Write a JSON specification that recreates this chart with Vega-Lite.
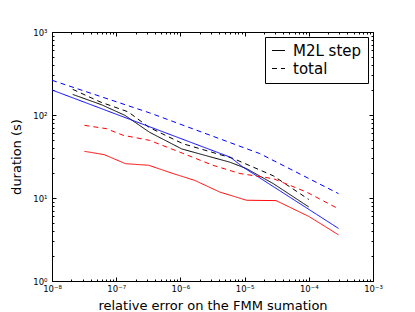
{
  "$schema": "https://vega.github.io/schema/vega-lite/v6.json",
  "width": 321,
  "height": 249,
  "autosize": {"type": "none"},
  "padding": {"left": 52, "top": 32, "right": 42, "bottom": 31},
  "background": "white",
  "config": {
    "view": {"stroke": "black"},
    "font": "DejaVu Sans"
  },
  "data": {
    "values": [
      {"err": 2.1e-8, "dur": 177, "c": "k", "kind": "M2L step"},
      {"err": 5.9e-8, "dur": 133, "c": "k", "kind": "M2L step"},
      {"err": 1.37e-7, "dur": 99, "c": "k", "kind": "M2L step"},
      {"err": 3.3e-7, "dur": 62, "c": "k", "kind": "M2L step"},
      {"err": 1.05e-6, "dur": 39, "c": "k", "kind": "M2L step"},
      {"err": 5.9e-6, "dur": 27, "c": "k", "kind": "M2L step"},
      {"err": 1.07e-5, "dur": 22.6, "c": "k", "kind": "M2L step"},
      {"err": 2.8e-5, "dur": 14.9, "c": "k", "kind": "M2L step"},
      {"err": 1e-4, "dur": 7.8, "c": "k", "kind": "M2L step"},

      {"err": 2.1e-8, "dur": 204, "c": "k", "kind": "total"},
      {"err": 5.6e-8, "dur": 144, "c": "k", "kind": "total"},
      {"err": 1.54e-7, "dur": 109, "c": "k", "kind": "total"},
      {"err": 3.3e-7, "dur": 70.5, "c": "k", "kind": "total"},
      {"err": 1.1e-6, "dur": 45, "c": "k", "kind": "total"},
      {"err": 6.6e-6, "dur": 30, "c": "k", "kind": "total"},
      {"err": 2.8e-5, "dur": 18.5, "c": "k", "kind": "total"},
      {"err": 1e-4, "dur": 9.6, "c": "k", "kind": "total"},

      {"err": 1e-8, "dur": 200, "c": "b", "kind": "M2L step"},
      {"err": 6e-6, "dur": 31, "c": "b", "kind": "M2L step"},
      {"err": 9.4e-6, "dur": 23.6, "c": "b", "kind": "M2L step"},
      {"err": 2.9e-4, "dur": 4.3, "c": "b", "kind": "M2L step"},

      {"err": 1e-8, "dur": 262, "c": "b", "kind": "total"},
      {"err": 3.33e-7, "dur": 106, "c": "b", "kind": "total"},
      {"err": 1.72e-5, "dur": 34.3, "c": "b", "kind": "total"},
      {"err": 2.9e-4, "dur": 11.3, "c": "b", "kind": "total"},

      {"err": 3.2e-8, "dur": 36.5, "c": "r", "kind": "M2L step"},
      {"err": 6.5e-8, "dur": 33.3, "c": "r", "kind": "M2L step"},
      {"err": 1.4e-7, "dur": 25.9, "c": "r", "kind": "M2L step"},
      {"err": 3.2e-7, "dur": 24.8, "c": "r", "kind": "M2L step"},
      {"err": 7.7e-7, "dur": 19.7, "c": "r", "kind": "M2L step"},
      {"err": 1.67e-6, "dur": 16.3, "c": "r", "kind": "M2L step"},
      {"err": 4.1e-6, "dur": 11.8, "c": "r", "kind": "M2L step"},
      {"err": 1.07e-5, "dur": 9.4, "c": "r", "kind": "M2L step"},
      {"err": 3.1e-5, "dur": 9.3, "c": "r", "kind": "M2L step"},
      {"err": 1e-4, "dur": 6.0, "c": "r", "kind": "M2L step"},
      {"err": 2.9e-4, "dur": 3.6, "c": "r", "kind": "M2L step"},

      {"err": 3.2e-8, "dur": 75, "c": "r", "kind": "total"},
      {"err": 7e-8, "dur": 68.5, "c": "r", "kind": "total"},
      {"err": 1.28e-7, "dur": 57, "c": "r", "kind": "total"},
      {"err": 3.3e-7, "dur": 49.5, "c": "r", "kind": "total"},
      {"err": 9.7e-7, "dur": 35.8, "c": "r", "kind": "total"},
      {"err": 3.2e-6, "dur": 24.8, "c": "r", "kind": "total"},
      {"err": 8.5e-6, "dur": 19.7, "c": "r", "kind": "total"},
      {"err": 2.8e-5, "dur": 17.1, "c": "r", "kind": "total"},
      {"err": 9.2e-5, "dur": 11.8, "c": "r", "kind": "total"},
      {"err": 2.9e-4, "dur": 7.4, "c": "r", "kind": "total"}
    ]
  },
  "resolve": {"axis": {"x": "independent", "y": "independent"}},
  "layer": [
    {
      "mark": {"type": "line", "strokeWidth": 1, "clip": true},
      "encoding": {
        "x": {
          "field": "err", "type": "quantitative",
          "scale": {"type": "log", "domain": [1e-8, 1e-3], "nice": false},
          "axis": {
            "orient": "bottom",
            "title": "relative error on the FMM sumation",
            "values": [1e-8,2e-8,3e-8,4e-8,5e-8,6e-8,7e-8,8e-8,9e-8,1e-7,2e-7,3e-7,4e-7,5e-7,6e-7,7e-7,8e-7,9e-7,1e-6,2e-6,3e-6,4e-6,5e-6,6e-6,7e-6,8e-6,9e-6,1e-5,2e-5,3e-5,4e-5,5e-5,6e-5,7e-5,8e-5,9e-5,1e-4,2e-4,3e-4,4e-4,5e-4,6e-4,7e-4,8e-4,9e-4,1e-3],
            "labelExpr": "abs(log(datum.value)/LN10 - round(log(datum.value)/LN10)) < 0.001 ? ['10⁻⁸','10⁻⁷','10⁻⁶','10⁻⁵','10⁻⁴','10⁻³'][round(log(datum.value)/LN10)+8] : ''",
            "tickSize": {"condition": {"test": "abs(log(datum.value)/LN10 - round(log(datum.value)/LN10)) < 0.001", "value": -4}, "value": -2},
            "grid": false,
            "domainColor": "black", "tickColor": "black", "labelColor": "black", "titleColor": "black",
            "labelFont": "DejaVu Sans", "labelFontSize": 8.5,
            "titleFont": "DejaVu Sans", "titleFontSize": 13, "titleFontWeight": "normal",
            "labelPadding": 7, "titlePadding": 5,
            "labelFlush": false, "labelOverlap": false
          }
        },
        "y": {
          "field": "dur", "type": "quantitative",
          "scale": {"type": "log", "domain": [1, 1000], "nice": false},
          "axis": {
            "orient": "left",
            "title": "duration (s)",
            "values": [1,2,3,4,5,6,7,8,9,10,20,30,40,50,60,70,80,90,100,200,300,400,500,600,700,800,900,1000],
            "labelExpr": "abs(log(datum.value)/LN10 - round(log(datum.value)/LN10)) < 0.001 ? ['10⁰','10¹','10²','10³'][round(log(datum.value)/LN10)] : ''",
            "tickSize": {"condition": {"test": "abs(log(datum.value)/LN10 - round(log(datum.value)/LN10)) < 0.001", "value": -4}, "value": -2},
            "grid": false,
            "domainColor": "black", "tickColor": "black", "labelColor": "black", "titleColor": "black",
            "labelFont": "DejaVu Sans", "labelFontSize": 8.5,
            "titleFont": "DejaVu Sans", "titleFontSize": 13, "titleFontWeight": "normal",
            "labelPadding": 9, "titlePadding": 9,
            "labelFlush": false, "labelOverlap": false
          }
        },
        "color": {
          "field": "c", "type": "nominal",
          "scale": {"domain": ["k", "b", "r"], "range": ["#000000", "#0000ff", "#ff0000"]},
          "legend": null
        },
        "strokeDash": {
          "field": "kind", "type": "nominal",
          "scale": {"domain": ["M2L step", "total"], "range": [[1, 0], [5, 4]]},
          "legend": {
            "orient": "top-right", "offset": 5, "title": null,
            "fillColor": "white", "strokeColor": "black", "padding": 6, "cornerRadius": 0,
            "labelFont": "DejaVu Sans", "labelFontSize": 15, "labelColor": "black",
            "symbolType": "stroke", "symbolStrokeColor": "black", "symbolStrokeWidth": 1,
            "symbolSize": 170, "rowPadding": 2, "labelOffset": 7
          }
        }
      }
    },
    {
      "mark": {"type": "point", "opacity": 0},
      "encoding": {
        "x": {
          "field": "err", "type": "quantitative",
          "axis": {
            "orient": "top", "title": null, "labels": false, "grid": false,
            "values": [1e-8,2e-8,3e-8,4e-8,5e-8,6e-8,7e-8,8e-8,9e-8,1e-7,2e-7,3e-7,4e-7,5e-7,6e-7,7e-7,8e-7,9e-7,1e-6,2e-6,3e-6,4e-6,5e-6,6e-6,7e-6,8e-6,9e-6,1e-5,2e-5,3e-5,4e-5,5e-5,6e-5,7e-5,8e-5,9e-5,1e-4,2e-4,3e-4,4e-4,5e-4,6e-4,7e-4,8e-4,9e-4,1e-3],
            "tickSize": {"condition": {"test": "abs(log(datum.value)/LN10 - round(log(datum.value)/LN10)) < 0.001", "value": -4}, "value": -2},
            "domainColor": "black", "tickColor": "black"
          }
        },
        "y": {
          "field": "dur", "type": "quantitative",
          "axis": {
            "orient": "right", "title": null, "labels": false, "grid": false,
            "values": [1,2,3,4,5,6,7,8,9,10,20,30,40,50,60,70,80,90,100,200,300,400,500,600,700,800,900,1000],
            "tickSize": {"condition": {"test": "abs(log(datum.value)/LN10 - round(log(datum.value)/LN10)) < 0.001", "value": -4}, "value": -2},
            "domainColor": "black", "tickColor": "black"
          }
        }
      }
    }
  ]
}
